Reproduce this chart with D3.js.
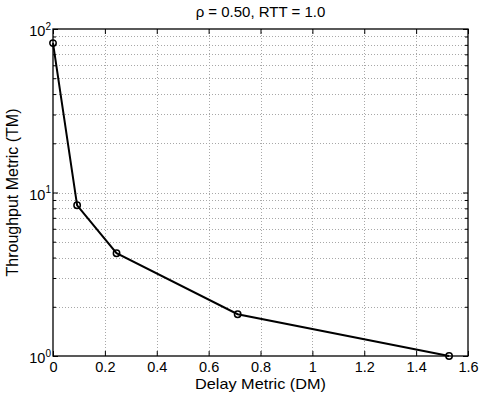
<!DOCTYPE html>
<html lang="en">
<head>
<meta charset="UTF-8">
<title>Throughput vs Delay</title>
<style>
  body { margin: 0; background: #fff; }
  svg text { font-family: "Liberation Sans", Arial, sans-serif; fill: #000; }
</style>
</head>
<body>
<div id="chart-container"></div>
<script src="https://d3js.org/d3.v7.min.js"></script>
<script>
const delayMetric = [0, 0.093, 0.245, 0.712, 1.527];
const throughputMetric = [82, 8.35, 4.25, 1.8, 1.0];
const xTicks = [0, 0.2, 0.4, 0.6, 0.8, 1, 1.2, 1.4, 1.6];
const yDecades = [0, 1, 2];
const titleText = "\u03C1 = 0.50, RTT = 1.0";
const xLabel = "Delay Metric (DM)";
const yLabel = "Throughput Metric (TM)";

const MARGIN = {LEFT: 53, TOP: 29, RIGHT: 11, BOTTOM: 45};
const W = 479, H = 401;
const WIDTH = W - MARGIN.LEFT - MARGIN.RIGHT;
const HEIGHT = H - MARGIN.TOP - MARGIN.BOTTOM;

const svg = d3.select("#chart-container").append("svg")
  .attr("width", W).attr("height", H);
const g = svg.append("g").attr("transform", `translate(${MARGIN.LEFT}, ${MARGIN.TOP})`);

const x = d3.scaleLinear().domain([0, 1.6]).range([0, WIDTH]);
const y = d3.scaleLog().domain([1, 100]).range([HEIGHT, 0]);

// log ticks: majors and minors
const minorVals = [];
for (let d = 0; d < 2; d++) for (let m = 2; m <= 9; m++) minorVals.push(m * Math.pow(10, d));
const majorVals = yDecades.map(d => Math.pow(10, d));

// grid
const grid = g.append("g").attr("stroke", "#a8a8a8").attr("stroke-width", 1)
  .attr("stroke-dasharray", "1,2").attr("shape-rendering", "crispEdges");
grid.selectAll(".gx").data(xTicks.slice(1, -1)).enter().append("line")
  .attr("x1", d => Math.round(x(d)) + 0.5).attr("x2", d => Math.round(x(d)) + 0.5)
  .attr("y1", 0).attr("y2", HEIGHT);
grid.selectAll(".gy").data(minorVals.concat(majorVals.slice(1, -1))).enter().append("line")
  .attr("y1", d => Math.round(y(d)) + 0.5).attr("y2", d => Math.round(y(d)) + 0.5)
  .attr("x1", 0).attr("x2", WIDTH);

// axes with inward ticks
const axT = g.append("g");
const xb = d3.axisBottom(x).tickValues(xTicks).tickSize(-5).tickPadding(6).tickFormat(d3.format("~g"));
axT.append("g").attr("transform", `translate(0, ${HEIGHT})`).call(xb);
const xt = d3.axisTop(x).tickValues(xTicks).tickSize(-5).tickFormat("");
axT.append("g").call(xt);
const yl = d3.axisLeft(y).tickValues(majorVals).tickSize(-5).tickFormat("");
axT.append("g").call(yl);
const ylMinor = d3.axisLeft(y).tickValues(minorVals).tickSize(-3).tickFormat("");
axT.append("g").call(ylMinor);
const yr = d3.axisRight(y).tickValues(majorVals).tickSize(-5).tickFormat("");
axT.append("g").attr("transform", `translate(${WIDTH}, 0)`).call(yr);
const yrMinor = d3.axisRight(y).tickValues(minorVals).tickSize(-3).tickFormat("");
axT.append("g").attr("transform", `translate(${WIDTH}, 0)`).call(yrMinor);
axT.selectAll(".domain").remove();
axT.selectAll("line").attr("stroke", "#000");
axT.selectAll("text").attr("font-size", 14.5).attr("font-family", "Liberation Sans, Arial, sans-serif");

// box
g.append("rect").attr("x", 0).attr("y", 0).attr("width", WIDTH).attr("height", HEIGHT)
  .attr("fill", "none").attr("stroke", "#000").attr("stroke-width", 1.3);

// y tick labels as 10^n
const yLabs = g.selectAll(".ylab").data(yDecades).enter().append("text")
  .attr("x", -2).attr("y", d => y(Math.pow(10, d)) + 7)
  .attr("text-anchor", "end").attr("font-size", 14.5);
yLabs.append("tspan").text("10");
yLabs.append("tspan").attr("dy", -6.5).attr("font-size", 10).text(d => d);

// line and markers
const line = d3.line().x((d, i) => x(delayMetric[i])).y(d => y(d));
g.append("path").datum(throughputMetric)
  .attr("fill", "none").attr("stroke", "#000").attr("stroke-width", 2).attr("d", line);
g.selectAll(".pt").data(throughputMetric).enter().append("circle")
  .attr("cx", (d, i) => x(delayMetric[i])).attr("cy", d => y(d))
  .attr("r", 3.2).attr("fill", "none").attr("stroke", "#000").attr("stroke-width", 1.5);

// labels
svg.append("text").attr("x", MARGIN.LEFT + WIDTH / 2).attr("y", 17)
  .attr("text-anchor", "middle").attr("font-size", 15).text(titleText);
svg.append("text").attr("x", MARGIN.LEFT + WIDTH / 2).attr("y", 389)
  .attr("text-anchor", "middle").attr("font-size", 15).attr("textLength", 131)
  .attr("lengthAdjust", "spacingAndGlyphs").text(xLabel);
svg.append("text").attr("transform", `translate(18, ${MARGIN.TOP + HEIGHT / 2}) rotate(-90)`)
  .attr("text-anchor", "middle").attr("font-size", 16).text(yLabel);
</script>
</body>
</html>
